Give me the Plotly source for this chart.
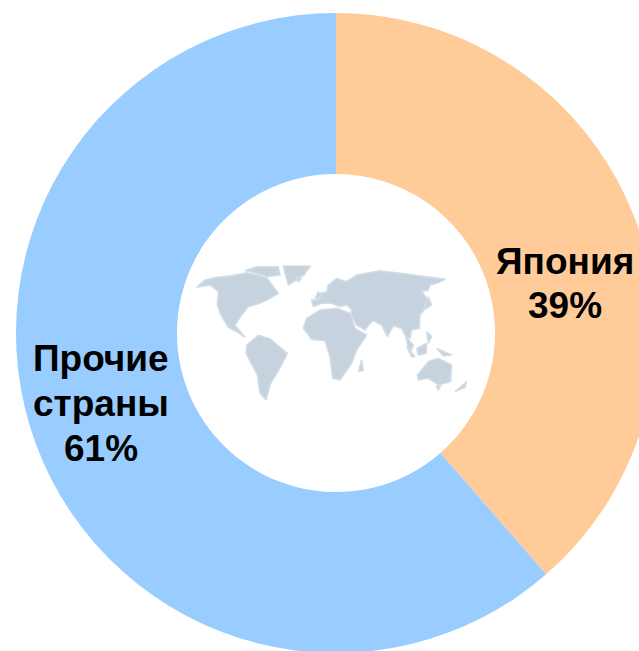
import plotly.graph_objects as go

categories = ["Япония", "Прочие страны"]
shares = [38.6, 61.4]
slice_colors = ["#FFCC99", "#99CCFF"]
label_lines = [
    ("Япония", 565, 261), ("39%", 565, 305),
    ("Прочие", 101, 358), ("страны", 101, 403), ("61%", 101, 448),
]

# Backdrop world map outlines (zoom-crop coordinates)
north_america = [(50,112),(75,90),(110,82),(150,78),(200,68),(235,75),(262,85),(295,130),(270,145),(240,160),(205,170),(185,195),(165,225),(195,262),(175,248),(145,232),(122,195),(112,165),(115,125),(90,105)]
arctic = [(195,62),(230,50),(295,50),(300,75),(262,80),(225,68)]
greenland = [(310,48),(392,48),(372,75),(325,105),(315,70)]
south_america = [(200,285),(235,256),(270,266),(322,310),(297,360),(272,400),(258,450),(240,430),(232,375),(198,310)]
africa = [(370,235),(380,205),(420,180),(470,175),(510,190),(525,235),(560,255),(530,300),(515,340),(480,390),(458,385),(450,320),(435,272),(395,268)]
eurasia = [(400,170),(395,150),(415,150),(420,130),(440,125),(445,105),(470,85),(500,95),(530,75),(600,62),(680,72),(760,82),(797,88),(770,100),(750,105),(745,120),(725,125),(745,150),(735,175),(720,195),(718,235),(695,240),(690,265),(678,262),(665,235),(640,228),(622,260),(605,225),(580,212),(570,220),(555,240),(530,225),(512,195),(515,178),(500,165),(480,170),(455,160),(425,160)]
malaya = [(678,260),(700,285),(692,305),(682,285)]
borneo = [(710,295),(740,280),(738,310),(715,315)]
sumatra = [(680,290),(705,320),(695,320)]
guinea = [(770,295),(815,315),(790,318)]
philippines = [(740,245),(755,260),(745,280)]
japan = [(745,140),(755,165),(730,180),(735,165)]
madagascar = [(545,330),(550,360),(535,365)]
australia = [(712,375),(745,335),(775,325),(815,345),(812,395),(775,405),(745,385),(715,390)]
new_zealand = [(825,425),(860,395),(855,412)]
tasmania = [(768,408),(782,408),(775,420)]
iceland = [(345,85),(365,85),(355,95)]
britain = [(415,125),(425,140),(405,148)]
map_shapes = [north_america, arctic, greenland, south_america, africa, eurasia, malaya, borneo,
              sumatra, guinea, philippines, japan, madagascar, australia, new_zealand, tasmania,
              iceland, britain]

fig = go.Figure()
for shape in map_shapes:
    xs = [180 + p[0] / 3 for p in shape] + [180 + shape[0][0] / 3]
    ys = [250 + p[1] / 3 for p in shape] + [250 + shape[0][1] / 3]
    fig.add_trace(go.Scatter(x=xs, y=ys, mode="lines", fill="toself", fillcolor="#C6D2DE",
                             line=dict(color="#D3DDE6", width=1.5), hoverinfo="skip", showlegend=False))

fig.add_trace(go.Pie(labels=categories, values=shares, hole=0.497, sort=False, direction="clockwise",
                     rotation=0, marker=dict(colors=slice_colors, line=dict(width=0)),
                     textinfo="none", showlegend=False))

for text, x, y in label_lines:
    fig.add_annotation(x=x, y=y, xref="x", yref="y", text=f"<b>{text}</b>", showarrow=False,
                       font=dict(family="Liberation Sans", size=37, color="black"),
                       xanchor="center", yanchor="middle")

fig.update_layout(
    width=672, height=666, autosize=False,
    margin=dict(l=16, r=16, t=13, b=13),
    paper_bgcolor="white", plot_bgcolor="rgba(0,0,0,0)",
    xaxis=dict(range=[16, 656], visible=False),
    yaxis=dict(range=[653, 13], visible=False),
)
fig.write_html("out.html", config={"displayModeBar": False}, post_script=
    "document.documentElement.style.overflow='hidden';document.body.style.overflow='hidden';document.body.style.margin='0';")
